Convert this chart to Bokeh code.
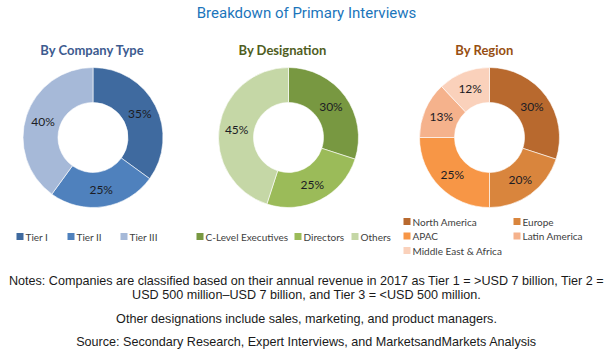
import math
from bokeh.plotting import figure
from bokeh.models import Range1d, ColumnDataSource
from bokeh.core.properties import value
from bokeh.embed import file_html
from bokeh.resources import INLINE

# ---- data ----
title_text = "Breakdown of Primary Interviews"

company_labels = ["Tier I", "Tier II", "Tier III"]
company_values = [35, 25, 40]
company_colors = ["#3f6a9f", "#4f81bd", "#a6b9d8"]

designation_labels = ["C-Level Executives", "Directors", "Others"]
designation_values = [30, 25, 45]
designation_colors = ["#789841", "#9bbb59", "#c5d7a6"]

region_labels = ["North America", "Europe", "APAC", "Latin America", "Middle East & Africa"]
region_values = [30, 20, 25, 13, 12]
region_colors = ["#b8692e", "#d9853d", "#f79646", "#f5b28c", "#fad1bb"]

notes = [
    "Notes: Companies are classified based on their annual revenue in 2017 as Tier 1 = >USD 7 billion, Tier 2 =",
    "USD 500 million\u2013USD 7 billion, and Tier 3 = <USD 500 million.",
    "Other designations include sales, marketing, and product managers.",
    "Source: Secondary Research, Expert Interviews, and MarketsandMarkets Analysis",
]

W, H = 613, 357
def Y(py):
    return H - py

p = figure(width=W, height=H, x_range=Range1d(0, W), y_range=Range1d(0, H),
           output_backend="svg", toolbar_location=None, min_border=0)
p.axis.visible = False
p.grid.visible = False
p.outline_line_color = None
p.background_fill_color = "white"
p.border_fill_color = "white"

def donut(cx, cy, vals, colors, r_out=70, r_in=35):
    total = float(sum(vals))
    starts, ends, lx, ly, labs = [], [], [], [], []
    cum = 0.0
    for v in vals:
        f0 = cum / total
        f1 = (cum + v) / total
        starts.append(math.pi / 2 - 2 * math.pi * f0)
        ends.append(math.pi / 2 - 2 * math.pi * f1)
        mid = math.pi / 2 - 2 * math.pi * (f0 + f1) / 2
        rm = (r_out + r_in) / 2
        lx.append(cx + rm * math.cos(mid))
        ly.append(Y(cy) + rm * math.sin(mid))
        labs.append(f"{v}%")
        cum += v
    src = ColumnDataSource(dict(s=starts, e=ends, c=colors))
    p.annular_wedge(x=cx, y=Y(cy), inner_radius=r_in, outer_radius=r_out,
                    start_angle="s", end_angle="e", direction="clock",
                    fill_color="c", line_color="white", line_width=0.6, source=src)
    p.text(x=lx, y=ly, text=labs, text_align="center", text_baseline="middle",
           text_font=value("Lato"), text_font_size="12px", text_color="#1c1c24")

def legend(items, colors, positions):
    for lab, col, (x, y) in zip(items, colors, positions):
        p.rect(x=x + 3.5, y=Y(y), width=7, height=7, fill_color=col, line_color=None)
        p.text(x=[x + 9], y=[Y(y)], text=[lab], text_align="left", text_baseline="middle",
               text_font=value("Lato"), text_font_size="10px", text_color="#404040")

# title
p.text(x=[306], y=[Y(12)], text=[title_text], text_align="center", text_baseline="middle",
       text_font=value("Roboto"), text_font_size="15px", text_color="#1b75bb")

# subtitles
for t, x, c in [("By Company Type", 92, "#3d5b8f"), ("By Designation", 282, "#4f5d22"),
                ("By Region", 484, "#974f12")]:
    p.text(x=[x], y=[Y(49)], text=[t], text_align="center", text_baseline="middle",
           text_font=value("Lato"), text_font_size="13px", text_font_style="bold", text_color=c)

donut(92.5, 137, company_values, company_colors)
donut(288, 137, designation_values, designation_colors)
donut(489, 137, region_values, region_colors)

legend(company_labels, company_colors, [(16, 236), (67, 236), (120, 236)])
legend(designation_labels, designation_colors, [(196, 236), (294, 236), (351, 236)])
legend(region_labels, region_colors, [(403, 221), (513, 221), (403, 235.5), (513, 235.5), (403, 250)])

for t, y in zip(notes, [280, 294, 318, 341]):
    p.text(x=[306], y=[Y(y)], text=[t], text_align="center", text_baseline="middle",
           text_font=value("Liberation Sans"), text_font_size="12.6px", text_color="#1a1a1a")

open("out.html", "w").write(file_html(p, INLINE))
